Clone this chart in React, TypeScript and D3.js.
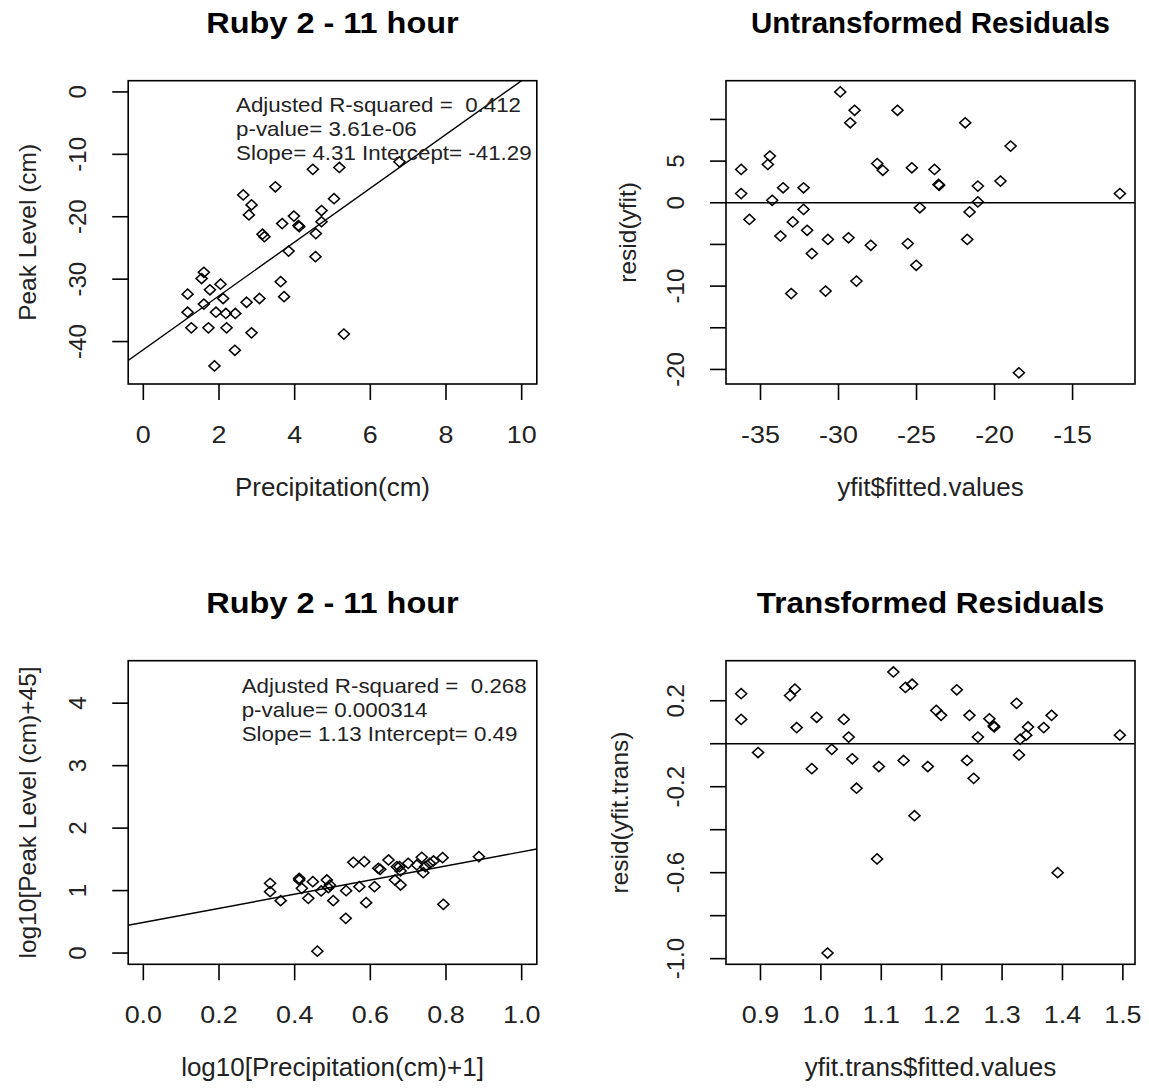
import React from 'react';
import * as d3 from 'd3';

const W = 1149;
const H = 1092;
const FONT = '"Liberation Sans", Arial, sans-serif';

// top left: Peak level vs precipitation
const precip = [4.48, 5.18, 6.77, 3.49, 2.64, 2.86, 2.79, 5.04, 4.71, 3.98, 3.67, 4.10, 4.12, 4.71, 4.56, 3.15, 3.20, 3.84, 4.55, 1.60, 1.54, 2.04, 1.76, 1.17, 3.63, 2.11, 3.72, 3.07, 2.73, 1.60, 1.17, 1.92, 2.18, 2.43, 1.27, 1.72, 2.20, 2.86, 5.30, 2.42, 1.88];
const peak = [-12.4, -12.1, -11.2, -15.2, -16.5, -18.1, -19.7, -17.1, -19.0, -19.9, -21.1, -21.4, -21.6, -20.8, -22.7, -22.8, -23.2, -25.5, -26.4, -28.9, -29.9, -30.8, -31.7, -32.4, -30.4, -33.1, -32.8, -33.1, -33.7, -34.0, -35.3, -35.3, -35.5, -35.5, -37.8, -37.8, -37.8, -38.6, -38.8, -41.4, -43.9];

// top right: residuals vs fitted
const fitted = [-29.89, -28.97, -26.22, -29.25, -21.88, -18.97, -34.40, -34.53, -36.24, -27.52, -27.16, -25.30, -23.85, -23.59, -23.55, -19.62, -21.07, -36.24, -33.55, -32.24, -34.25, -11.97, -21.07, -24.79, -32.24, -35.71, -21.60, -32.93, -32.01, -33.72, -30.68, -29.36, -27.93, -25.56, -21.75, -31.71, -25.02, -28.85, -33.03, -30.83, -18.44];
const resid = [13.3, 11.1, 11.1, 9.6, 9.6, 6.8, 5.6, 4.6, 4.0, 4.7, 3.9, 4.2, 4.0, 2.2, 2.1, 2.6, 2.0, 1.1, 1.8, 1.8, 0.3, 1.1, 0.1, -0.6, -0.8, -2.0, -1.1, -2.3, -3.3, -4.0, -4.4, -4.2, -5.1, -4.9, -4.4, -6.1, -7.5, -9.4, -10.9, -10.6, -20.4];

// bottom left: log transformed
const logPrecip = [0.887, 0.791, 0.736, 0.757, 0.745, 0.740, 0.700, 0.677, 0.680, 0.648, 0.670, 0.621, 0.626, 0.584, 0.555, 0.665, 0.680, 0.611, 0.571, 0.536, 0.485, 0.493, 0.489, 0.448, 0.470, 0.412, 0.412, 0.419, 0.436, 0.335, 0.335, 0.363, 0.502, 0.589, 0.793, 0.535, 0.460, 0.723, 0.767];
const logPeak = [1.543, 1.527, 1.532, 1.436, 1.383, 1.287, 1.436, 1.383, 1.314, 1.490, 1.383, 1.356, 1.340, 1.463, 1.452, 1.170, 1.089, 1.063, 1.063, 0.999, 1.170, 1.089, 1.047, 1.143, 0.994, 1.196, 1.170, 1.036, 0.876, 1.116, 0.983, 0.839, 0.839, 0.807, 0.780, 0.556, 0.03, 1.41, 1.474];

// bottom right: transformed residuals
const fittedT = [1.120, 1.140, 1.151, 0.957, 0.949, 0.868, 1.225, 1.324, 1.191, 1.199, 1.246, 1.382, 0.868, 0.993, 1.038, 1.279, 1.286, 1.287, 1.343, 1.369, 0.960, 1.046, 1.260, 1.340, 1.330, 1.495, 0.896, 1.018, 1.328, 1.052, 1.137, 1.242, 0.985, 1.096, 1.177, 1.253, 1.059, 1.155, 1.093, 1.392, 1.011];
const residT = [0.334, 0.262, 0.277, 0.254, 0.224, 0.233, 0.251, 0.188, 0.155, 0.132, 0.132, 0.132, 0.113, 0.123, 0.113, 0.116, 0.083, 0.078, 0.078, 0.075, 0.075, 0.031, 0.031, 0.040, 0.021, 0.040, -0.041, -0.026, -0.052, -0.070, -0.078, -0.078, -0.116, -0.106, -0.106, -0.161, -0.207, -0.335, -0.536, -0.600, -0.974];

// fits and their printout
const fit1 = { slope: 4.31, intercept: -41.29 };
const fit2 = { slope: 1.13, intercept: 0.49 };
const flat = { slope: 0, intercept: 0 };
const notes1 = ['Adjusted R-squared =  0.412', 'p-value= 3.61e-06', 'Slope= 4.31 Intercept= -41.29'];
const notes2 = ['Adjusted R-squared =  0.268', 'p-value= 0.000314', 'Slope= 1.13 Intercept= 0.49'];

// R style limits: 4% padding on each side
const pad = ([a, b]: number[]) => [a - 0.04 * (b - a), b + 0.04 * (b - a)];

const LEFT = [128.2, 536.8];
const RIGHT = [726, 1135];
const TOP = [384, 80.7];
const BOTTOM = [964.3, 660.7];

const diamond = d3.symbol(d3.symbolDiamond2, 78)();

// plain hyphen minus like R prints it
const intFmt = (v: number) => String(v);
const oneDec = (v: number) => v.toFixed(1);

const HText = ({ x, y, size = 23, sx = 1, bold = false, anchor = 'middle', children }: any) => (
  <text
    transform={`translate(${x},${y}) scale(${sx},1)`}
    fontSize={size}
    fontWeight={bold ? 'bold' : 'normal'}
    textAnchor={anchor}
    fontFamily={FONT}
    fill={bold ? '#000' : '#222'}
    style={{ whiteSpace: 'pre' }}
  >
    {children}
  </text>
);

const VText = ({ x, y, size = 23, children }: any) => (
  <text
    transform={`translate(${x},${y}) rotate(-90)`}
    fontSize={size}
    textAnchor="middle"
    fontFamily={FONT}
    fill="#222"
  >
    {children}
  </text>
);

type PanelProps = {
  id: string;
  xs: number[];
  ys: number[];
  xDom: number[];
  yDom: number[];
  xRange: number[];
  yRange: number[];
  xTicks: number[];
  yTicks: number[];
  yLabelled: number[];
  fmtX: (v: number) => string;
  fmtY: (v: number) => string;
  title: string;
  titleSx: number;
  xLab: string;
  yLab: string;
  yLabOff: number;
  fit: { slope: number; intercept: number };
  notes?: string[];
  noteAt?: number[];
};

const Panel = (p: PanelProps) => {
  const x = d3.scaleLinear().domain(p.xDom).range(p.xRange);
  const y = d3.scaleLinear().domain(p.yDom).range(p.yRange);
  const [x0, x1] = p.xRange;
  const [yb, yt] = p.yRange;
  const line = d3.line<number>().x((d) => x(d)).y((d) => y(p.fit.intercept + p.fit.slope * d));
  const cx = (x0 + x1) / 2;
  const cy = (yb + yt) / 2;
  return (
    <g>
      <defs>
        <clipPath id={p.id}>
          <rect x={x0} y={yt} width={x1 - x0} height={yb - yt} />
        </clipPath>
      </defs>
      <path d={line(p.xDom) || ''} fill="none" stroke="#000" strokeWidth={1.4} clipPath={`url(#${p.id})`} />
      {p.xs.map((v, i) => (
        <path
          key={i}
          d={diamond}
          transform={`translate(${x(v)},${y(p.ys[i])}) scale(1,0.92)`}
          fill="none"
          stroke="#000"
          strokeWidth={1.6}
        />
      ))}
      {p.notes &&
        p.notes.map((t, i) => (
          <HText key={t} x={x(p.noteAt![0])} y={y(p.noteAt![1]) + 7 + i * 24} size={20.5} sx={1.09} anchor="start">
            {t}
          </HText>
        ))}
      <rect x={x0} y={yt} width={x1 - x0} height={yb - yt} fill="none" stroke="#000" strokeWidth={1.6} />
      {p.xTicks.map((t) => (
        <g key={t}>
          <line x1={x(t)} x2={x(t)} y1={yb} y2={yb + 16} stroke="#000" strokeWidth={1.6} />
          <HText x={x(t)} y={yb + 59} size={24} sx={1.12}>{p.fmtX(t)}</HText>
        </g>
      ))}
      {p.yTicks.map((t) => (
        <g key={t}>
          <line x1={x0 - 16} x2={x0} y1={y(t)} y2={y(t)} stroke="#000" strokeWidth={1.6} />
          {p.yLabelled.includes(t) && <VText x={x0 - 42} y={y(t)} size={24}>{p.fmtY(t)}</VText>}
        </g>
      ))}
      <HText x={cx} y={yt - 48} size={29.5} sx={p.titleSx} bold>
        {p.title}
      </HText>
      <HText x={cx} y={yb + 112} size={26}>{p.xLab}</HText>
      <VText x={x0 - p.yLabOff} y={cy} size={24.5}>{p.yLab}</VText>
    </g>
  );
};

export default function App() {
  return (
    <svg
      width={W}
      height={H}
      viewBox={`0 0 ${W} ${H}`}
      style={{ position: 'absolute', left: 0, top: 0, background: '#fff' }}
    >
      <rect width={W} height={H} fill="#fff" />
      <Panel
        id="c1"
        xs={precip}
        ys={peak}
        xDom={pad([0, 10])}
        yDom={pad([-45, 0])}
        xRange={LEFT}
        yRange={TOP}
        xTicks={[0, 2, 4, 6, 8, 10]}
        yTicks={[0, -10, -20, -30, -40]}
        yLabelled={[0, -10, -20, -30, -40]}
        fmtX={intFmt}
        fmtY={intFmt}
        title="Ruby 2 - 11 hour"
        titleSx={1.1}
        xLab="Precipitation(cm)"
        yLab="Peak Level (cm)"
        yLabOff={92}
        fit={fit1}
        notes={notes1}
        noteAt={[2.45, -2.09]}
      />
      <Panel
        id="c2"
        xs={fitted}
        ys={resid}
        xDom={pad(d3.extent(fitted) as number[])}
        yDom={pad(d3.extent(resid) as number[])}
        xRange={RIGHT}
        yRange={TOP}
        xTicks={[-35, -30, -25, -20, -15]}
        yTicks={[-20, -15, -10, -5, 0, 5, 10]}
        yLabelled={[-20, -10, 0, 5]}
        fmtX={intFmt}
        fmtY={intFmt}
        title="Untransformed Residuals"
        titleSx={1.0}
        xLab="yfit$fitted.values"
        yLab="resid(yfit)"
        yLabOff={90}
        fit={flat}
      />
      <Panel
        id="c3"
        xs={logPrecip}
        ys={logPeak}
        xDom={pad([0, 1])}
        yDom={pad([0, 4.5])}
        xRange={LEFT}
        yRange={BOTTOM}
        xTicks={[0, 0.2, 0.4, 0.6, 0.8, 1.0]}
        yTicks={[0, 1, 2, 3, 4]}
        yLabelled={[0, 1, 2, 3, 4]}
        fmtX={oneDec}
        fmtY={intFmt}
        title="Ruby 2 - 11 hour"
        titleSx={1.1}
        xLab="log10[Precipitation(cm)+1]"
        yLab="log10[Peak Level (cm)+45]"
        yLabOff={92}
        fit={fit2}
        notes={notes2}
        noteAt={[0.26, 4.27]}
      />
      <Panel
        id="c4"
        xs={fittedT}
        ys={residT}
        xDom={pad(d3.extent(fittedT) as number[])}
        yDom={pad(d3.extent(residT) as number[])}
        xRange={RIGHT}
        yRange={BOTTOM}
        xTicks={[0.9, 1.0, 1.1, 1.2, 1.3, 1.4, 1.5]}
        yTicks={[0.2, 0, -0.2, -0.4, -0.6, -0.8, -1.0]}
        yLabelled={[0.2, -0.2, -0.6, -1.0]}
        fmtX={oneDec}
        fmtY={oneDec}
        title="Transformed Residuals"
        titleSx={1.065}
        xLab="yfit.trans$fitted.values"
        yLab="resid(yfit.trans)"
        yLabOff={98}
        fit={flat}
      />
    </svg>
  );
}
